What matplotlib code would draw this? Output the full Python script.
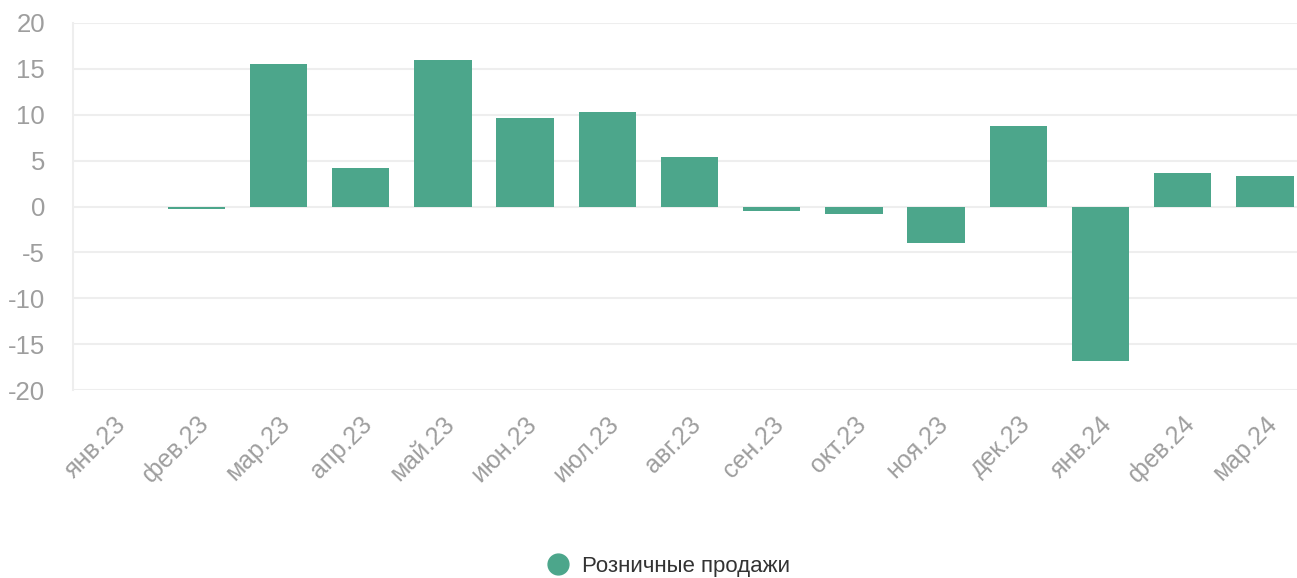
import matplotlib.pyplot as plt
import matplotlib.transforms as mtransforms
from matplotlib.lines import Line2D

# Данные (% к предыдущему месяцу)
months = ["янв.23", "фев.23", "мар.23", "апр.23", "май.23", "июн.23", "июл.23", "авг.23",
          "сен.23", "окт.23", "ноя.23", "дек.23", "янв.24", "фев.24", "мар.24"]
retail_sales = [0, -0.3, 15.5, 4.2, 16.0, 9.7, 10.3, 5.4, -0.5, -0.8, -4.0, 8.8, -16.8, 3.7, 3.3]
y_ticks = [-20, -15, -10, -5, 0, 5, 10, 15, 20]

bar_color = "#4ca68b"
grid_color = "#eeeeee"
label_color = "#9e9e9e"

plt.rcParams['font.family'] = ['Liberation Sans', 'DejaVu Sans']

fig = plt.figure(figsize=(12.97, 5.78), dpi=100)
ax = fig.add_axes([73 / 1297, 1 - 390 / 578, 1233 / 1297, 367 / 578])

x = list(range(len(months)))
ax.bar(x, retail_sales, width=0.7, color=bar_color, zorder=3)

ax.set_xlim(-0.5, len(months) - 0.5)
ax.set_ylim(-20, 20)
ax.set_yticks(y_ticks)
ax.set_yticklabels([str(v) for v in y_ticks])
ax.set_xticks(x)
ax.set_xticklabels(months, rotation=45, ha='right', va='center', rotation_mode='anchor')

ax.grid(axis='y', color=grid_color, linewidth=1.5, zorder=0)
for side in ['top', 'right', 'bottom']:
	ax.spines[side].set_visible(False)
ax.spines['left'].set_color(grid_color)
ax.spines['left'].set_linewidth(1.5)

ax.tick_params(axis='y', length=0, pad=20, labelsize=18.5, labelcolor=label_color)
ax.tick_params(axis='x', length=0, pad=22, labelsize=18, labelcolor=label_color)

# сдвиг подписей оси X немного вправо
shift = mtransforms.ScaledTranslation(8 / 100, 0, fig.dpi_scale_trans)
for lbl in ax.get_xticklabels():
	lbl.set_transform(lbl.get_transform() + shift)

# Легенда внизу по центру
handle = Line2D([], [], marker='o', linestyle='', markersize=15,
                markerfacecolor=bar_color, markeredgecolor=bar_color)
fig.legend([handle], ["Розничные продажи"], loc='center', bbox_to_anchor=(0.511, 0.02),
           frameon=False, fontsize=16, handletextpad=0.1, labelcolor="#333333")

fig.savefig("out.png", dpi=100)
